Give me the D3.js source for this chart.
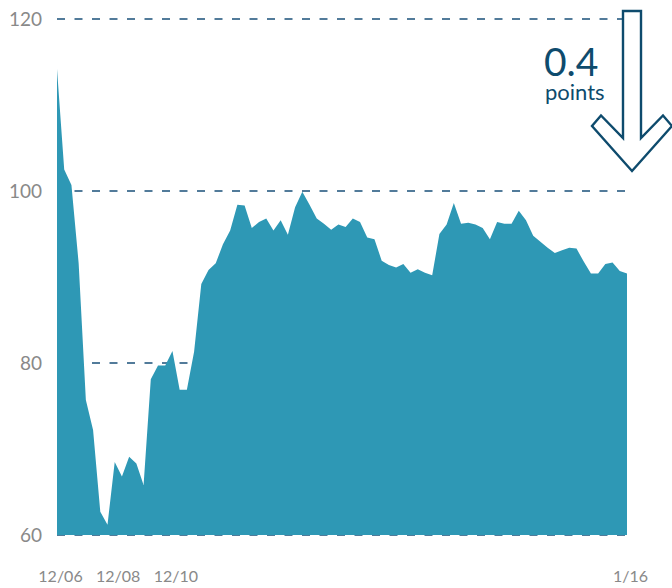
<!DOCTYPE html>
<meta charset="utf-8">
<html>
<head>
  <style>
  body { margin: 0; background: #fff; }
  text { font-family: Lato, "Open Sans", sans-serif; }
  .axis text { fill: #898989; }
  .axis path, .axis line { display: none; }
  line.grid {
    stroke: #1a5079;
    stroke-width: 1.5px;
    stroke-dasharray: 8, 9.5;
  }
  </style>
  <script src="https://cdn.jsdelivr.net/npm/d3@7"></script>
</head>
<body>
  <div id="chart"></div>
  <script type="text/javascript">
  var width = 672, height = 588;

  // Series values, one per sample
  var values = [
    114.2, 102.5, 100.7, 91.6, 75.7, 72.2, 62.7, 61.2, 68.5, 66.8,
    69.1, 68.3, 65.8, 78.1, 79.7, 79.7, 81.4, 76.9, 76.9, 81.3,
    89.2, 90.8, 91.6, 93.8, 95.4, 98.4, 98.3, 95.7, 96.4, 96.8,
    95.4, 96.6, 94.9, 98.1, 99.9, 98.4, 96.8, 96.2, 95.5, 96.1,
    95.8, 96.8, 96.4, 94.6, 94.4, 91.9, 91.4, 91.1, 91.5, 90.5,
    90.9, 90.5, 90.2, 95.0, 96.1, 98.6, 96.2, 96.3, 96.1, 95.7,
    94.4, 96.4, 96.2, 96.2, 97.7, 96.6, 94.8, 94.1, 93.4, 92.8,
    93.1, 93.4, 93.3, 91.8, 90.4, 90.4, 91.5, 91.7, 90.7, 90.4
  ];

  // Tick labels on the x axis and the sample they sit under
  var xTickIndex = [0, 8, 16, 79];
  var xTickLabels = ["12/06", "12/08", "12/10", "1/16"];

  // Gridline / tick values on the y axis
  var yTicks = [60, 80, 100, 120];

  // Annotation
  var noteValue = "0.4";
  var noteUnit = "points";

  var x = d3.scaleLinear().domain([0, values.length - 1]).range([57, 627]);
  var y = d3.scaleLinear().domain([60, 120]).range([535, 19]);

  var svg = d3.select("#chart").append("svg")
    .attr("width", width)
    .attr("height", height);

  // Gridlines (behind the area)
  svg.selectAll(".grid")
    .data(yTicks)
    .enter().append("line")
    .attr("class", "grid")
    .attr("x1", 57)
    .attr("x2", 633)
    .attr("y1", function(d) { return y(d); })
    .attr("y2", function(d) { return y(d); });

  // Area
  var area = d3.area()
    .x(function(d, i) { return x(i); })
    .y0(y(60))
    .y1(function(d) { return y(d); });

  svg.append("path")
    .datum(values)
    .attr("d", area)
    .style("fill", "#2e98b5");

  // Y axis labels
  svg.append("g")
    .attr("class", "axis")
    .attr("transform", "translate(57,0)")
    .call(d3.axisLeft(y).tickValues(yTicks).tickSize(0).tickPadding(15))
    .selectAll("text")
    .style("font-size", "19px");

  // X axis labels
  var xAxis = svg.append("g")
    .attr("class", "axis")
    .attr("transform", "translate(0,535)")
    .call(d3.axisBottom(x)
      .tickValues(xTickIndex)
      .tickSize(0)
      .tickPadding(35.5)
      .tickFormat(function(d) { return xTickLabels[xTickIndex.indexOf(d)]; }));
  xAxis.selectAll("text")
    .attr("dx", 3)
    .style("font-size", "16px");

  // Down arrow annotation
  var cx = 632;
  var arrow = [
    [cx - 9, 11], [cx + 9, 11], [cx + 9, 138], [cx + 31, 115.5],
    [cx + 40, 126], [cx, 171], [cx - 40, 126], [cx - 31, 115.5],
    [cx - 9, 138]
  ];
  svg.append("path")
    .attr("d", d3.line()(arrow) + "Z")
    .style("fill", "#fff")
    .style("stroke", "#0e4b6d")
    .style("stroke-width", 2.4)
    .style("stroke-linejoin", "miter");

  // Annotation text: value and unit stacked in one text block
  var note = svg.append("text")
    .attr("y", 76)
    .style("fill", "#0e4b6d");
  note.append("tspan")
    .attr("x", 544)
    .style("font-size", "39px")
    .text(noteValue);
  note.append("tspan")
    .attr("x", 545)
    .attr("dy", 24)
    .style("font-size", "22px")
    .text(noteUnit);
  </script>
</body>
</html>
